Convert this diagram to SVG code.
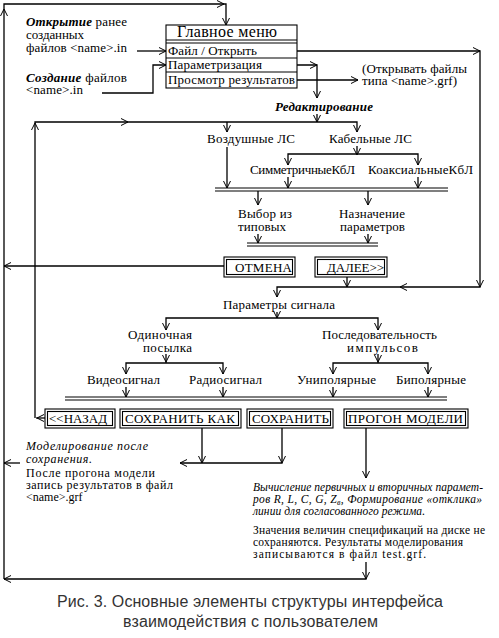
<svg xmlns="http://www.w3.org/2000/svg" xmlns:xlink="http://www.w3.org/1999/xlink" width="499" height="638" viewBox="0 0 499 638">
<style>
.t{font-family:"Liberation Serif","Times New Roman",serif;font-size:13px;fill:#000}
.s{font-size:11.5px}
.m{font-size:12px}
.bi{font-weight:bold;font-style:italic}
.i{font-style:italic}
.cap{font-family:"Liberation Sans",Arial,sans-serif;font-size:16px;fill:#333}
.ln{fill:none;stroke:#000;stroke-width:1.3}
.dl{fill:none;stroke:#000;stroke-width:1.1}
.bx{fill:#fff;stroke:#000;stroke-width:1.1}
</style>
<defs>
<path id="ad" d="M-3.5,-7 L0,0 L3.5,-7" fill="none" stroke="#000" stroke-width="1"/>
<path id="au" d="M-3.5,7 L0,0 L3.5,7" fill="none" stroke="#000" stroke-width="1"/>
<path id="al" d="M7,-3.5 L0,0 L7,3.5" fill="none" stroke="#000" stroke-width="1"/>
<path id="ar" d="M-7,-3.5 L0,0 L-7,3.5" fill="none" stroke="#000" stroke-width="1"/>
</defs>
<rect width="499" height="638" fill="#fff"/>

<g id="connectors">
<g class="ln">
<path d="M4,579 V4 H226 V25"/>
<path d="M137,51 H166"/>
<path d="M102,93 H153 V65 H166"/>
<path d="M297,51 H480 V287 H277 V297"/>
<path d="M297,65 H317 V98"/>
<path d="M297,80 H358"/>
<path d="M317,114 V122"/>
<path d="M35,418 V122 H357 V132"/>
<path d="M227,122 V132"/>
<path d="M357,146 V154"/>
<path d="M288,165 V154 H418 V165"/>
<path d="M227,147 V188"/>
<path d="M288,177 V188"/>
<path d="M418,177 V188"/>
<path d="M258,191 V205 M368,191 V205"/>
<path d="M258,234 V243 M368,234 V243"/>
<path d="M224,266 H4"/>
<path d="M347,277 V287"/>
<path d="M277,312 V318"/>
<path d="M166,330 V318 H378 V330"/>
<path d="M166,354 V363"/>
<path d="M126,374 V363 H223 V374"/>
<path d="M378,354 V363"/>
<path d="M333,374 V363 H428 V374"/>
<path d="M126,387 V397 M223,387 V397 M333,387 V397 M428,387 V397"/>
<path d="M45,418 H36"/>
<path d="M202,428 V463 M282,428 V463 H180"/>
<path d="M20,463 H4"/>
<path d="M366,428 V478"/>
<path d="M366,562 V579 H4"/>
</g>
<g class="dl">
<path d="M215,188 H448 M215,191 H448"/>
<path d="M247,243 H378 M247,246 H378"/>
<path d="M65,397 H447 M65,400 H447"/>
</g>
<use href="#au" x="4" y="9"/>
<use href="#ar" x="224" y="4"/>
<use href="#ad" x="226" y="25"/>
<use href="#ar" x="166" y="51"/>
<use href="#ar" x="166" y="65"/>
<use href="#ar" x="480" y="51"/>
<use href="#ad" x="480" y="287"/>
<use href="#al" x="400" y="287"/>
<use href="#ad" x="277" y="297"/>
<use href="#ar" x="317" y="65"/>
<use href="#ad" x="317" y="98"/>
<use href="#ar" x="358" y="80"/>
<use href="#ad" x="317" y="122"/>
<use href="#ar" x="128" y="122"/>
<use href="#au" x="35" y="123"/>
<use href="#ad" x="227" y="132"/>
<use href="#ad" x="357" y="132"/>
<use href="#ad" x="357" y="155"/>
<use href="#ad" x="288" y="165"/>
<use href="#ad" x="418" y="165"/>
<use href="#ad" x="227" y="188"/>
<use href="#ad" x="288" y="188"/>
<use href="#ad" x="418" y="188"/>
<use href="#ad" x="258" y="205"/>
<use href="#ad" x="368" y="205"/>
<use href="#ad" x="258" y="243"/>
<use href="#ad" x="368" y="243"/>
<use href="#al" x="4" y="266"/>
<use href="#ad" x="347" y="287"/>
<use href="#ad" x="277" y="318"/>
<use href="#ad" x="166" y="330"/>
<use href="#ad" x="378" y="330"/>
<use href="#ad" x="166" y="362"/>
<use href="#ad" x="378" y="362"/>
<use href="#ad" x="126" y="374"/>
<use href="#ad" x="223" y="374"/>
<use href="#ad" x="333" y="374"/>
<use href="#ad" x="428" y="374"/>
<use href="#ad" x="126" y="397"/>
<use href="#ad" x="223" y="397"/>
<use href="#ad" x="333" y="397"/>
<use href="#ad" x="428" y="397"/>
<use href="#al" x="37" y="418"/>
<use href="#ad" x="202" y="463"/>
<use href="#ad" x="282" y="463"/>
<use href="#al" x="180" y="463"/>
<use href="#al" x="4" y="463"/>
<use href="#ad" x="366" y="478"/>
<use href="#ad" x="366" y="579"/>
<use href="#al" x="4" y="579"/>
</g>

<g id="open-note" class="t">
<text x="26" y="26" textLength="101"><tspan class="bi">Открытие</tspan> ранее</text>
<text x="26" y="39" textLength="58">созданных</text>
<text x="26" y="52" textLength="101">файлов &lt;name&gt;.in</text>
</g>
<g id="create-note" class="t">
<text x="26" y="82" textLength="101"><tspan class="bi">Создание</tspan> файлов</text>
<text x="26" y="94" textLength="57">&lt;name&gt;.in</text>
</g>

<g id="main-menu">
<rect class="bx" x="166" y="25" width="131" height="63"/>
<path class="dl" d="M166,40 H297 M166,43 H297 M166,58 H297 M166,72 H297"/>
<text class="t" x="177" y="37" style="font-size:16px" textLength="100">Главное меню</text>
<text class="t" x="168" y="55" textLength="89">Файл / Открыть</text>
<text class="t" x="168" y="69" textLength="94">Параметризация</text>
<text class="t" x="168" y="84" textLength="127">Просмотр результатов</text>
</g>

<g id="grf-note" class="t">
<text x="362" y="73" textLength="105">(Открывать файлы</text>
<text x="362" y="85" textLength="95">типа &lt;name&gt;.grf)</text>
</g>

<g id="edit"><text class="t bi" x="275" y="111" textLength="98">Редактирование</text></g>
<g id="air"><text class="t" x="207" y="143" textLength="88">Воздушные ЛС</text></g>
<g id="cable"><text class="t" x="329" y="143" textLength="83">Кабельные ЛС</text></g>
<g id="sym"><text class="t" x="250" y="174" textLength="105">СимметричныеКбЛ</text></g>
<g id="coax"><text class="t" x="368" y="174" textLength="105">КоаксиальныеКбЛ</text></g>
<g id="choose" class="t">
<text x="238" y="218" textLength="54">Выбор из</text>
<text x="238" y="231" textLength="48">типовых</text>
</g>
<g id="assign" class="t">
<text x="339" y="218" textLength="66">Назначение</text>
<text x="340" y="231" textLength="65">параметров</text>
</g>

<g id="cancel">
<rect class="bx" x="224" y="257" width="71" height="20"/>
<rect class="bx" x="226.5" y="259.5" width="66" height="15"/>
<text class="t" x="235" y="272" textLength="57">ОТМЕНА</text>
</g>
<g id="next">
<rect class="bx" x="315" y="257" width="72" height="20"/>
<rect class="bx" x="317.5" y="259.5" width="67" height="15"/>
<text class="t" x="327" y="272" textLength="57">ДАЛЕЕ&gt;&gt;</text>
</g>

<g id="signal"><text class="t" x="223" y="309" textLength="112">Параметры сигнала</text></g>
<g id="single" class="t">
<text x="128" y="339" textLength="64">Одиночная</text>
<text x="143" y="352" textLength="49">посылка</text>
</g>
<g id="sequence" class="t">
<text x="322" y="339" textLength="115">Последовательность</text>
<text x="347" y="352" textLength="71">импульсов</text>
</g>
<g id="video"><text class="t" x="87" y="384" textLength="73">Видеосигнал</text></g>
<g id="radio"><text class="t" x="189" y="384" textLength="73">Радиосигнал</text></g>
<g id="unipolar"><text class="t" x="297" y="384" textLength="79">Униполярные</text></g>
<g id="bipolar"><text class="t" x="396" y="384" textLength="70">Биполярные</text></g>

<g id="back">
<rect class="bx" x="45" y="409" width="70" height="19"/>
<rect class="bx" x="47.5" y="411.5" width="65" height="14"/>
<text class="t" x="49" y="423" textLength="58">&lt;&lt;НАЗАД</text>
</g>
<g id="save-as">
<rect class="bx" x="120" y="409" width="121" height="19"/>
<rect class="bx" x="122.5" y="411.5" width="116" height="14"/>
<text class="t" x="125" y="423" textLength="110">СОХРАНИТЬ КАК</text>
</g>
<g id="save">
<rect class="bx" x="247" y="409" width="86" height="19"/>
<rect class="bx" x="249.5" y="411.5" width="81" height="14"/>
<text class="t" x="252" y="423" textLength="77">СОХРАНИТЬ</text>
</g>
<g id="run">
<rect class="bx" x="344" y="409" width="124" height="19"/>
<rect class="bx" x="346.5" y="411.5" width="119" height="14"/>
<text class="t" x="348" y="423" textLength="115">ПРОГОН МОДЕЛИ</text>
</g>

<g id="save-note" class="t m">
<text class="i" x="26" y="450" textLength="122">Моделирование после</text>
<text class="i" x="26" y="463" textLength="66">сохранения.</text>
<text x="26" y="477" textLength="129">После прогона модели</text>
<text x="26" y="489" textLength="147">запись результатов в файл</text>
<text x="26" y="501">&lt;name&gt;.grf</text>
</g>

<g id="run-note" class="t s">
<text class="i" x="253" y="491" textLength="230">Вычисление первичных и вторичных парамет-</text>
<text class="i" x="253" y="503" textLength="229">ров R, L, C, G, Z<tspan style="font-size:8px" dy="2">в</tspan><tspan dy="-2">, Формирование «отклика»</tspan></text>
<text class="i" x="253" y="515" textLength="172">линии для согласованного режима.</text>
<text x="253" y="534" textLength="232">Значения величин спецификаций на диске не</text>
<text x="253" y="546" textLength="210">сохраняются. Результаты моделирования</text>
<text x="253" y="558" textLength="173">записываются в файл test.grf.</text>
</g>

<g id="caption" class="cap">
<text x="57" y="607" textLength="386">Рис. 3. Основные элементы структуры интерфейса</text>
<text x="123" y="627" textLength="255">взаимодействия с пользователем</text>
</g>
</svg>
